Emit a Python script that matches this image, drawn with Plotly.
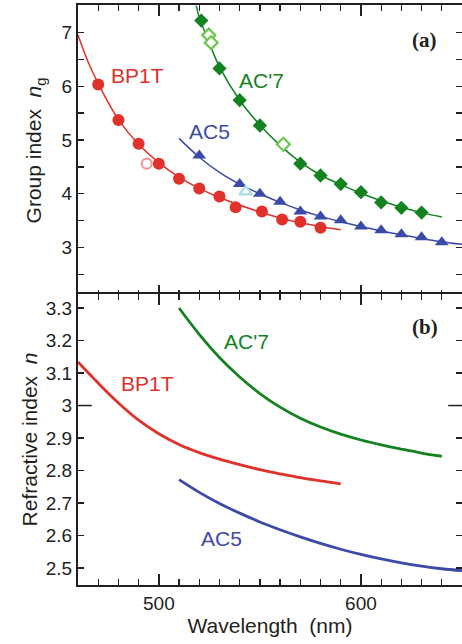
import plotly.graph_objects as go

# ---------------- data ----------------
# (a) group index, measured points
bp1t_wl = [470, 480, 490, 500, 510, 520, 530, 538, 551, 561, 570, 580]
bp1t_ng = [6.03, 5.37, 4.93, 4.56, 4.28, 4.10, 3.95, 3.75, 3.67, 3.52, 3.48, 3.37]
bp1t_open_wl = [494]
bp1t_open_ng = [4.56]

ac5_wl = [520, 540, 550, 560, 570, 580, 590, 600, 610, 620, 630, 640]
ac5_ng = [4.71, 4.18, 4.00, 3.85, 3.67, 3.58, 3.51, 3.39, 3.32, 3.25, 3.19, 3.10]
ac5_open_wl = [543]
ac5_open_ng = [4.04]

ac7_wl = [521, 530, 540, 550, 570, 580, 590, 600, 610, 620, 630]
ac7_ng = [7.22, 6.33, 5.74, 5.27, 4.56, 4.34, 4.18, 4.03, 3.84, 3.74, 3.65]
ac7_open_wl = [524.7, 525.9, 561.6]
ac7_open_ng = [6.95, 6.81, 4.92]

# (a) fitted curves
bp1t_fit_wl = [460, 465, 470, 480, 490, 500, 510, 520, 530, 540, 550, 560, 570, 580, 590]
bp1t_fit_ng = [6.95, 6.45, 6.05, 5.38, 4.92, 4.58, 4.31, 4.10, 3.93, 3.79, 3.66, 3.55, 3.46, 3.39, 3.33]

ac5_fit_wl = [510, 520, 530, 540, 550, 560, 570, 580, 590, 600, 610, 620, 630, 640, 650]
ac5_fit_ng = [5.03, 4.68, 4.40, 4.18, 4.00, 3.84, 3.70, 3.58, 3.48, 3.39, 3.31, 3.24, 3.17, 3.11, 3.06]

ac7_fit_wl = [518.5, 520, 525, 530, 540, 550, 560, 570, 580, 590, 600, 610, 620, 630, 640]
ac7_fit_ng = [7.50, 7.28, 6.80, 6.36, 5.74, 5.28, 4.90, 4.59, 4.35, 4.17, 4.01, 3.87, 3.75, 3.65, 3.57]

# (b) refractive index curves
bp1t_n_wl = [460, 470, 480, 490, 500, 510, 520, 530, 540, 550, 560, 570, 580, 590]
bp1t_n = [3.134, 3.069, 3.008, 2.955, 2.913, 2.880, 2.855, 2.835, 2.818, 2.803, 2.790, 2.778, 2.768, 2.759]

ac7_n_wl = [510, 520, 530, 540, 550, 560, 570, 580, 590, 600, 610, 620, 630, 640]
ac7_n = [3.300, 3.219, 3.148, 3.088, 3.037, 2.995, 2.961, 2.934, 2.912, 2.894, 2.879, 2.866, 2.854, 2.844]

ac5_n_wl = [510, 520, 530, 540, 550, 560, 570, 580, 590, 600, 610, 620, 630, 640, 650]
ac5_n = [2.772, 2.733, 2.699, 2.669, 2.642, 2.618, 2.596, 2.576, 2.558, 2.542, 2.528, 2.516, 2.506, 2.498, 2.492]

# tick labels
x_tickvals = [500, 600]
x_ticktext = ["500", "600"]
ya_tickvals = [3, 4, 5, 6, 7]
ya_ticktext = ["3", "4", "5", "6", "7"]
yb_tickvals = [2.5, 2.6, 2.7, 2.8, 2.9, 3.0, 3.1, 3.2, 3.3]
yb_ticktext = ["2.5", "2.6", "2.7", "2.8", "2.9", "3", "3.1", "3.2", "3.3"]

# ---------------- style ----------------
RED = "#e0312a"
BLUE = "#3b49a8"
GREEN = "#13821f"
PINK = "#f29a9a"
CYAN = "#a9e0df"
LGREEN = "#6cc64f"
INK = "#231f20"
SANS = "Liberation Sans, Arial, sans-serif"
SERIF = "Liberation Serif, Times New Roman, serif"

fig = go.Figure()

def line(x, y, color, width, xa, ya):
    fig.add_trace(go.Scatter(x=x, y=y, mode="lines", xaxis=xa, yaxis=ya,
                             line=dict(color=color, width=width, shape="spline", smoothing=1.0),
                             hoverinfo="skip", showlegend=False))

def pts(x, y, color, symbol, size, open_=False):
    fig.add_trace(go.Scatter(x=x, y=y, mode="markers", xaxis="x", yaxis="y",
                             marker=dict(color="white" if open_ else color, symbol=symbol, size=size,
                                         line=dict(color=color, width=2.2 if open_ else 0)),
                             showlegend=False))

# panel (a)
line(bp1t_fit_wl, bp1t_fit_ng, RED, 1.5, "x", "y")
line(ac5_fit_wl, ac5_fit_ng, BLUE, 1.5, "x", "y")
line(ac7_fit_wl, ac7_fit_ng, GREEN, 1.5, "x", "y")
pts(bp1t_wl, bp1t_ng, RED, "circle", 12)
pts(bp1t_open_wl, bp1t_open_ng, PINK, "circle", 10, True)
pts(ac5_wl, ac5_ng, BLUE, "triangle-up", 12)
pts(ac5_open_wl, ac5_open_ng, CYAN, "triangle-up", 11, True)
pts(ac7_wl, ac7_ng, GREEN, "diamond", 11)
pts(ac7_open_wl, ac7_open_ng, LGREEN, "diamond", 10, True)

# panel (b)
line(bp1t_n_wl, bp1t_n, RED, 2.8, "x2", "y2")
line(ac7_n_wl, ac7_n, GREEN, 2.8, "x2", "y2")
line(ac5_n_wl, ac5_n, BLUE, 2.8, "x2", "y2")

xcommon = dict(range=[460, 650], tickvals=x_tickvals, ticktext=x_ticktext,
               ticks="inside", ticklen=11, tickwidth=1.5, tickcolor=INK,
               minor=dict(dtick=10, tick0=460, ticks="inside", ticklen=6, tickwidth=1.3, tickcolor=INK),
               showline=True, linewidth=2, linecolor=INK, mirror="ticks",
               showgrid=False, zeroline=False, automargin=False,
               tickfont=dict(family=SANS, size=19, color=INK))
ycommon = dict(ticks="inside", tickwidth=1.3, tickcolor=INK,
               showline=True, linewidth=2, linecolor=INK, mirror="ticks",
               showgrid=False, zeroline=False, automargin=False,
               tickfont=dict(family=SANS, size=19, color=INK))

fig.update_layout(
    width=462, height=644,
    margin=dict(l=78, r=0, t=5, b=59),
    paper_bgcolor="white", plot_bgcolor="white",
    xaxis=dict(**xcommon, anchor="y", domain=[0, 1], showticklabels=False, matches="x2"),
    xaxis2=dict(**xcommon, anchor="y2", domain=[0, 1],
                title=dict(text="Wavelength  (nm)", font=dict(family=SANS, size=21, color=INK), standoff=0)),
    yaxis=dict(**ycommon, anchor="x", domain=[0.4983, 1], range=[2.1, 7.51],
               tickvals=ya_tickvals, ticktext=ya_ticktext, ticklen=6,
               minor=dict(dtick=0.5, tick0=2.5, ticks="inside", ticklen=6, tickwidth=1.3, tickcolor=INK),
               title=dict(text="Group index  <i>n</i><sub>g</sub>",
                          font=dict(family=SANS, size=21, color=INK), standoff=14)),
    yaxis2=dict(**ycommon, anchor="x2", domain=[0, 0.5017], range=[2.448, 3.343],
                tickvals=yb_tickvals, ticktext=yb_ticktext, ticklen=6,
                title=dict(text="Refractive index  <i>n</i>",
                           font=dict(family=SANS, size=21, color=INK), standoff=2)),
)

# longer tick at n = 3 (left and right)
for x0, x1 in [(0, 0.036), (0.964, 1.0)]:
    fig.add_shape(type="line", xref="paper", yref="y2", x0=x0, x1=x1, y0=3.0, y1=3.0,
                  line=dict(color=INK, width=1.5))

def label(text, x, y, color, xr, yr, font=SANS, size=21, bold=False):
    fig.add_annotation(text=f"<b>{text}</b>" if bold else text, x=x, y=y, xref=xr, yref=yr,
                       showarrow=False, font=dict(family=font, size=size, color=color))

label("BP1T", 489.6, 6.20, RED, "x", "y")
label("AC5", 525, 5.16, BLUE, "x", "y")
label("AC'7", 550.6, 6.11, GREEN, "x", "y")
label("(a)", 631.4, 6.86, INK, "x", "y", font=SERIF, size=21, bold=True)
label("(b)", 631.9, 3.241, INK, "x2", "y2", font=SERIF, size=21, bold=True)
label("BP1T", 494.5, 3.069, RED, "x2", "y2")
label("AC'7", 543.3, 3.198, GREEN, "x2", "y2")
label("AC5", 531, 2.59, BLUE, "x2", "y2")

fig.write_html("out.html",
               config={"displayModeBar": False, "staticPlot": True},
               post_script="document.body.style.margin='0';document.body.style.overflow='hidden';")
